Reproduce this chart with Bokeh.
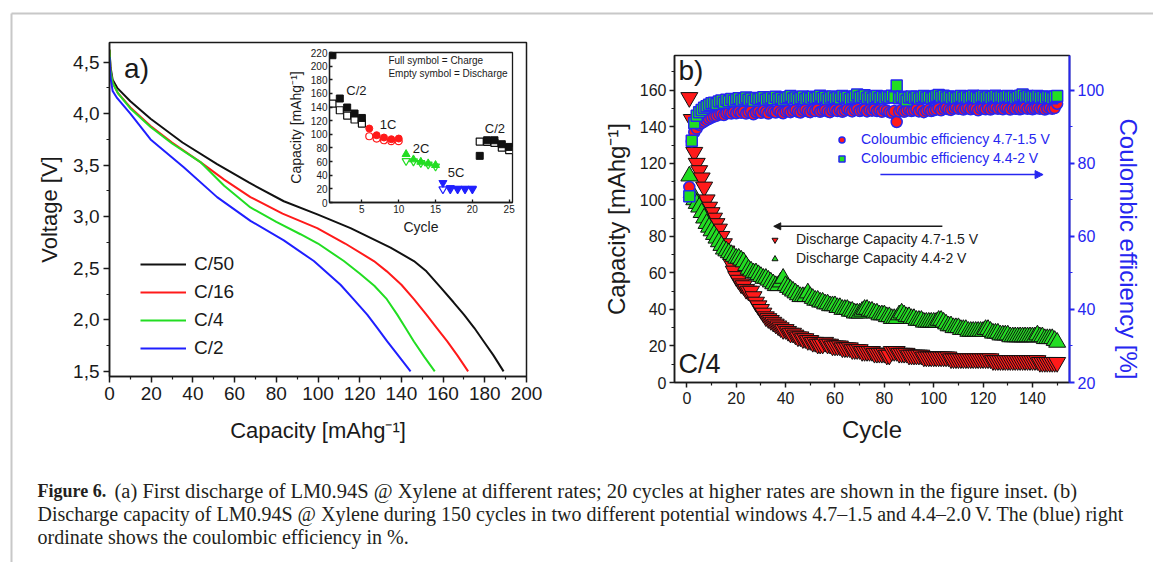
from bokeh.plotting import figure
from bokeh.models import (Range1d, LinearAxis, FixedTicker, Legend, LegendItem, Label,
                          Arrow, NormalHead, GridBox, Column, CustomJSTickFormatter)
from bokeh.embed import file_html
from bokeh.resources import INLINE

W, H = 1153, 562
FONT = "Liberation Sans"
SERIF = "Liberation Serif"
INK = "#1a1a1a"
RED = "#ff1a1a"
GREEN = "#22dd22"
BLUE = "#1f1fff"
AXBLUE = "#2626f0"

# ---------------- panel a: first discharge curves ----------------
c50_cap = [0, 0.5, 1.5, 3.7, 10, 19.7, 35, 51.6, 67, 83.6, 100, 115.6, 134.8, 146, 152, 159, 165, 170, 175, 179.5, 184, 189]
c50_v = [4.62, 4.45, 4.33, 4.25, 4.12, 3.95, 3.72, 3.51, 3.33, 3.15, 3.02, 2.89, 2.70, 2.57, 2.47, 2.31, 2.17, 2.05, 1.92, 1.79, 1.66, 1.50]
c16_cap = [0, 0.5, 1.5, 4, 10, 19.7, 30, 43.6, 55, 67.6, 83, 99.6, 113, 126.8, 133, 140, 146, 152, 157, 162, 167, 172]
c16_v = [4.62, 4.42, 4.30, 4.20, 4.06, 3.88, 3.72, 3.53, 3.36, 3.19, 3.03, 2.89, 2.74, 2.57, 2.47, 2.34, 2.20, 2.05, 1.92, 1.79, 1.65, 1.50]
c4_cap = [0, 0.5, 1.5, 4, 10, 19.7, 30, 43.6, 55, 67.6, 80, 91.6, 100, 112.4, 120, 127, 133, 138, 142, 146, 151, 156]
c4_v = [4.62, 4.42, 4.30, 4.20, 4.05, 3.87, 3.71, 3.53, 3.30, 3.09, 2.95, 2.83, 2.74, 2.57, 2.45, 2.33, 2.20, 2.05, 1.92, 1.79, 1.64, 1.50]
c2_cap = [0, 0.5, 1.5, 3.7, 10, 19.7, 35.6, 51.6, 67.6, 83.6, 98, 110.8, 117, 123.6, 128.5, 133.2, 139, 144.4]
c2_v = [4.55, 4.35, 4.22, 4.15, 4.00, 3.75, 3.48, 3.19, 2.96, 2.77, 2.57, 2.34, 2.20, 2.05, 1.92, 1.79, 1.64, 1.50]
rate_labels = ["C/50", "C/16", "C/4", "C/2"]

# ---------------- inset: rate capability ----------------
cyc_c2a = [1, 2, 3, 4, 5]
c2a_charge = [216, 152.5, 139.3, 130.5, 124]
c2a_dis = [145, 135.3, 127.5, 121.7, 115.8]
cyc_1c = [6, 7, 8, 9, 10]
c1_charge = [108.5, 98.7, 95.3, 92.8, 93.8]
c1_dis = [97.2, 93.8, 91.3, 89.9, 89.9]
cyc_2c = [11, 12, 13, 14, 15]
c2c_charge = [70.8, 63, 59.5, 57.2, 54.7]
c2c_dis = [61, 60.5, 58, 55.8, 53]
cyc_5c = [16, 17, 18, 19, 20]
c5_charge = [28.8, 21.4, 20.5, 20.5, 20.5]
c5_dis = [19.5, 19.5, 19.5, 19.5, 19.5]
cyc_c2b = [21, 22, 23, 24, 25]
c2b_charge = [68.4, 91.3, 91.3, 85.5, 81.5]
c2b_dis = [89.4, 89, 87.4, 80.6, 76.7]

# ---------------- panel b: cycling ----------------
cycles = list(range(1, 151))
dis_47 = [156, 144, 126, 120, 116, 112, 107, 100, 96, 93,
          90, 87, 84, 80, 76, 72, 68, 65, 61, 58,
          56, 54, 53, 51, 50, 50, 47, 44, 42, 40,
          38, 36, 35, 34, 33, 32, 31, 30, 29, 29,
          28, 27, 27, 26, 25, 25, 24, 24, 23, 23,
          22, 22, 21, 21, 21, 22, 21, 21, 20, 20,
          20, 20, 19, 19, 19, 19, 18, 18, 18, 18,
          17, 17, 17, 17, 17, 16, 16, 16, 16, 16,
          15, 15, 17, 17, 17, 16, 16, 16, 16, 15,
          15, 15, 15, 15, 15, 14, 14, 14, 14, 14,
          14, 14, 14, 14, 14, 14, 13, 13, 13, 13,
          13, 13, 13, 13, 13, 13, 13, 13, 13, 13,
          13, 13, 13, 12, 12, 12, 12, 12, 12, 12,
          12, 12, 12, 12, 12, 12, 12, 12, 12, 12,
          12, 12, 11, 11, 11, 11, 11, 11, 11, 11]
dis_44 = [113, 104, 100, 98, 96, 93, 90, 87, 85, 83,
          81, 79, 77, 75, 73, 72, 71, 70, 69, 68,
          68, 67, 66, 64, 62, 61, 60, 60, 59, 58,
          57, 57, 56, 55, 54, 53, 53, 55, 57, 53,
          52, 51, 50, 49, 48, 47, 47, 47, 49, 47,
          46, 45, 45, 44, 44, 43, 43, 42, 42, 42,
          41, 41, 40, 40, 40, 39, 39, 38, 38, 38,
          39, 40, 40, 39, 39, 38, 38, 37, 37, 37,
          36, 36, 35, 35, 35, 37, 38, 37, 36, 36,
          35, 35, 34, 34, 34, 33, 33, 33, 33, 33,
          33, 34, 34, 33, 32, 31, 31, 30, 30, 30,
          29, 29, 29, 28, 28, 28, 28, 28, 28, 28,
          29, 29, 28, 27, 27, 27, 26, 26, 26, 26,
          25, 25, 25, 25, 25, 25, 25, 25, 25, 25,
          25, 26, 25, 25, 24, 24, 24, 24, 23, 22]
ce_47 = [73.5, 86.0, 88.5, 89.5, 90.5, 91.0, 91.4, 91.8, 92.2, 92.5,
         92.8, 93.0, 93.3, 93.5, 93.2, 93.7, 93.9, 93.6, 94.0, 93.7,
         94.1, 93.8, 94.2, 93.6, 94.0, 94.3, 93.4, 93.9, 94.2, 93.8,
         94.4, 94.0, 93.6, 94.3, 94.1, 93.9, 94.5, 94.0, 93.7, 94.2,
         94.4, 94.0, 94.3, 94.6, 94.1, 93.9, 94.4, 94.7, 94.2, 94.0,
         94.5, 94.3, 94.8, 94.1, 94.4, 94.6, 94.2, 94.0, 94.5, 94.7,
         94.3, 94.6, 94.1, 94.4, 94.8, 94.5, 94.2, 94.6, 94.9, 94.3,
         94.5, 94.7, 94.2, 94.6, 94.4, 94.8, 94.3, 94.5, 94.1, 94.6,
         94.4, 94.0, 93.8, 94.3, 91.3, 94.2, 94.6, 94.1, 94.4, 94.7,
         94.3, 94.5, 94.8, 94.2, 94.6, 94.0, 94.4, 94.7, 94.3, 94.5,
         94.7, 95.1, 94.5, 94.9, 95.2, 94.8, 94.6, 95.0, 95.3, 94.9,
         95.1, 94.7, 95.0, 95.2, 94.8, 95.1, 94.9, 94.5, 95.0, 95.2,
         94.8, 95.1, 94.7, 95.0, 95.3, 94.9, 95.1, 94.8, 95.2, 95.0,
         94.7, 95.1, 94.9, 95.2, 94.8, 95.0, 95.3, 94.9, 95.1, 94.8,
         95.0, 95.2, 94.9, 95.1, 94.7, 95.0, 95.3, 94.9, 95.1, 96.3]
ce_44 = [71.0, 86.2, 91.0, 93.0, 94.0, 94.6, 95.2, 95.6, 96.0, 96.4,
         96.6, 96.2, 96.9, 97.2, 96.6, 97.4, 97.0, 97.6, 97.1, 97.5,
         97.8, 97.2, 97.6, 98.0, 97.4, 97.7, 97.1, 97.9, 97.5, 97.8,
         98.1, 97.4, 97.7, 98.0, 97.5, 98.2, 97.6, 97.9, 97.3, 97.8,
         98.1, 98.4, 97.7, 98.0, 97.5, 97.9, 98.3, 97.6, 98.0, 97.7,
         98.2, 97.8, 98.1, 98.5, 97.9, 98.2, 97.6, 98.0, 98.3, 97.8,
         98.1, 97.7, 98.4, 98.0, 98.2, 97.6, 97.9, 98.3, 98.8, 98.0,
         98.2, 98.6, 97.9, 98.3, 97.7, 98.1, 98.4, 97.8, 98.2, 97.9,
         98.3, 98.0, 98.5, 98.1, 101.3, 97.8, 98.2, 97.9, 97.2, 98.0,
         98.3, 97.9, 98.2, 97.7, 98.1, 98.4, 98.0, 98.2, 97.8, 98.1,
         98.4, 98.7, 98.2, 98.5, 98.0, 98.3, 97.9, 98.2, 97.8, 98.1,
         98.4, 98.0, 98.3, 97.9, 98.2, 98.5, 98.1, 97.8, 98.2, 98.4,
         98.0, 98.3, 97.9, 98.2, 98.5, 98.1, 98.3, 98.0, 98.2, 98.4,
         98.1, 98.3, 97.9, 98.2, 98.5, 98.8, 98.2, 98.4, 98.0, 98.3,
         98.1, 98.4, 98.0, 98.2, 97.9, 98.3, 98.1, 97.8, 98.2, 98.4]

caption_bold = "Figure 6."
caption_l1 = "(a) First discharge of LM0.94S @ Xylene at different rates; 20 cycles at higher rates are shown in the figure inset. (b)"
caption_l2 = "Discharge capacity of LM0.94S @ Xylene during 150 cycles in two different potential windows 4.7\u20131.5 and 4.4\u20132.0\u2009V. The (blue) right"
caption_l3 = "ordinate shows the coulombic efficiency in %."


def base_fig(left, top, right, bottom, xr, yr, opaque=False, **kw):
    p = figure(width=W, height=H, x_range=xr, y_range=yr, output_backend="svg",
               toolbar_location=None, min_border_left=left, min_border_top=top,
               min_border_right=W - right, min_border_bottom=H - bottom, **kw)
    p.grid.visible = False
    if not opaque:
        p.background_fill_color = None
        p.border_fill_color = None
    return p


def style_axis(ax, tick_size, label_size, color=INK, tout=6, mout=3, tin=0, lw=1.5):
    ax.axis_line_width = lw
    ax.axis_line_color = color
    ax.major_tick_line_color = color
    ax.major_tick_line_width = lw
    ax.minor_tick_line_color = color
    ax.minor_tick_line_width = 1.2
    ax.major_tick_in = tin
    ax.major_tick_out = tout
    ax.minor_tick_in = 0
    ax.minor_tick_out = mout
    ax.major_label_text_font = FONT
    ax.major_label_text_font_size = f"{tick_size}px"
    ax.major_label_text_color = color
    ax.axis_label_text_font = FONT
    ax.axis_label_text_font_size = f"{label_size}px"
    ax.axis_label_text_font_style = "normal"
    ax.axis_label_text_color = color


# ---------------- background: frame + caption ----------------
bg = base_fig(11, 13, W, H, Range1d(11, W), Range1d(H, 13), opaque=True, x_axis_location="above")
bg.outline_line_color = None
for ax in (bg.xaxis[0], bg.yaxis[0]):
    ax.ticker = FixedTicker(ticks=[])
    ax.axis_line_color = "#c8c8c8"
    ax.axis_line_width = 2
    ax.major_tick_in = ax.major_tick_out = 0
    ax.minor_tick_in = ax.minor_tick_out = 0
    ax.major_label_standoff = 0
cap_kw = dict(text_font=SERIF, text_color="#231f20", text_baseline="middle")
bg.add_layout(Label(x=37, y=490, text=caption_bold, text_font_style="bold", text_font_size="18px", **cap_kw))
bg.add_layout(Label(x=114, y=490, text=caption_l1, text_font_size="20.5px", **cap_kw))
bg.add_layout(Label(x=37, y=513, text=caption_l2, text_font_size="20px", **cap_kw))
bg.add_layout(Label(x=37, y=536, text=caption_l3, text_font_size="20px", **cap_kw))

# ---------------- panel a ----------------
pa = base_fig(109, 42, 526, 376, Range1d(0, 200), Range1d(1.45, 4.69))
pa.outline_line_color = INK
pa.outline_line_width = 1.5
pa.outline_line_alpha = 1
style_axis(pa.xaxis[0], 19, 22)
style_axis(pa.yaxis[0], 19, 22)
pa.xaxis.ticker = FixedTicker(ticks=list(range(0, 201, 20)), minor_ticks=list(range(10, 200, 20)))
pa.yaxis.ticker = FixedTicker(ticks=[1.5, 2.0, 2.5, 3.0, 3.5, 4.0, 4.5],
                              minor_ticks=[1.75, 2.25, 2.75, 3.25, 3.75, 4.25])
pa.yaxis.formatter = CustomJSTickFormatter(code="return tick.toFixed(1).replace('.', ',');")
pa.xaxis.axis_label = "Capacity [mAhg\u207b\u00b9]"
pa.yaxis.axis_label = "Voltage [V]"
pa.xaxis.major_label_standoff = 4
pa.xaxis.axis_label_standoff = 15
pa.yaxis.major_label_standoff = 4
pa.yaxis.axis_label_standoff = 8

curves = [(c50_cap, c50_v, "#111111"), (c16_cap, c16_v, RED), (c4_cap, c4_v, GREEN), (c2_cap, c2_v, BLUE)]
rends = [pa.line(cx, cy, line_color=col, line_width=2) for cx, cy, col in curves]
leg_a = Legend(items=[LegendItem(label=lab, renderers=[r]) for lab, r in zip(rate_labels, rends)],
               location=(31, 17), glyph_width=46, glyph_height=20, label_height=20, spacing=6,
               padding=0, margin=0, label_standoff=8, border_line_color=None,
               background_fill_alpha=0, label_text_font=FONT, label_text_font_size="19px",
               label_text_color=INK)
pa.add_layout(leg_a)
pa.add_layout(Label(x=7, y=4.44, text="a)", text_font=FONT, text_font_size="28px",
                    text_color=INK, text_baseline="middle"))

# ---------------- inset ----------------
pi = base_fig(329, 52, 512, 202, Range1d(0.6, 25.45), Range1d(0, 220))
pi.outline_line_color = INK
pi.outline_line_width = 1.3
pi.outline_line_alpha = 1
style_axis(pi.xaxis[0], 10, 14, tout=0, mout=0, tin=3, lw=1.3)
style_axis(pi.yaxis[0], 10, 14, tout=0, mout=0, tin=3, lw=1.3)
pi.xaxis.ticker = FixedTicker(ticks=[5, 10, 15, 20, 25])
pi.yaxis.ticker = FixedTicker(ticks=list(range(0, 221, 20)))
pi.xaxis.axis_label = "Cycle"
pi.yaxis.axis_label = "Capacity [mAhg\u207b\u00b9]"
pi.xaxis.major_label_standoff = 2
pi.yaxis.major_label_standoff = 2
pi.xaxis.axis_label_standoff = 3
pi.yaxis.axis_label_standoff = 4

MS = 7
for cx, full, empty in ((cyc_c2a, c2a_charge, c2a_dis), (cyc_c2b, c2b_charge, c2b_dis)):
    pi.scatter(cx, empty, marker="square", size=MS, fill_color="white", line_color="#111111", line_width=1.2)
    pi.scatter(cx, full, marker="square", size=MS, fill_color="#111111", line_color="#111111")
pi.scatter(cyc_1c, c1_dis, marker="circle", size=MS, fill_color="white", line_color=RED, line_width=1.2)
pi.scatter(cyc_1c, c1_charge, marker="circle", size=MS, fill_color=RED, line_color=RED)
pi.scatter(cyc_2c, c2c_dis, marker="inverted_triangle", size=MS + 1, fill_color="white", line_color=GREEN, line_width=1.2)
pi.scatter(cyc_2c, c2c_charge, marker="triangle", size=MS + 1, fill_color=GREEN, line_color=GREEN)
pi.scatter(cyc_5c, c5_dis, marker="inverted_triangle", size=MS + 1, fill_color="white", line_color=BLUE, line_width=1.2)
pi.scatter(cyc_5c, c5_charge, marker="inverted_triangle", size=MS + 1, fill_color=BLUE, line_color=BLUE)

ilab = dict(text_font=FONT, text_font_size="13px", text_color=INK, text_align="center", text_baseline="middle")
pi.add_layout(Label(x=4.26, y=164.7, text="C/2", **ilab))
pi.add_layout(Label(x=8.54, y=114.8, text="1C", **ilab))
pi.add_layout(Label(x=13.04, y=79.6, text="2C", **ilab))
pi.add_layout(Label(x=17.8, y=43.7, text="5C", **ilab))
pi.add_layout(Label(x=23.06, y=109, text="C/2", **ilab))
note = dict(text_font=FONT, text_font_size="10px", text_color=INK, text_baseline="middle")
pi.add_layout(Label(x=8.6, y=207.6, text="Full symbol = Charge", **note))
pi.add_layout(Label(x=8.6, y=189.1, text="Empty symbol = Discharge", **note))

# ---------------- panel b ----------------
pb = base_fig(674, 55, 1069, 382, Range1d(-5, 155), Range1d(0, 179))
pb.extra_y_ranges = {"ce": Range1d(20, 109.5)}
pb.outline_line_color = INK
pb.outline_line_width = 1.5
pb.outline_line_alpha = 1
style_axis(pb.xaxis[0], 16, 24, tout=5)
style_axis(pb.yaxis[0], 16, 24, tout=5)
pb.xaxis.ticker = FixedTicker(ticks=list(range(0, 141, 20)), minor_ticks=list(range(10, 151, 20)))
pb.yaxis.ticker = FixedTicker(ticks=list(range(0, 161, 20)), minor_ticks=list(range(10, 171, 20)))
pb.xaxis.axis_label = "Cycle"
pb.yaxis.axis_label = "Capacity [mAhg\u207b\u00b9]"
pb.xaxis.major_label_standoff = 4
pb.xaxis.axis_label_standoff = 9
pb.yaxis.major_label_standoff = 3
pb.yaxis.axis_label_standoff = 7

# non-breaking spaces push the title lower, as it sits in the original
rax = LinearAxis(y_range_name="ce", axis_label="\u00a0" * 9 + "Coulombic efficiency [%]",
                 ticker=FixedTicker(ticks=[20, 40, 60, 80, 100], minor_ticks=[30, 50, 70, 90]))
style_axis(rax, 16, 24, color=AXBLUE, tout=5, lw=2)
rax.major_label_standoff = 3
rax.axis_label_standoff = 8
pb.add_layout(rax, "right")

r_d47 = pb.scatter(cycles, dis_47, marker="inverted_triangle", size=17, fill_color=RED,
                   line_color="#111111", line_width=1)
r_d44 = pb.scatter(cycles, dis_44, marker="triangle", size=17, fill_color=GREEN,
                   line_color="#111111", line_width=1)
r_c47 = pb.scatter(cycles, ce_47, y_range_name="ce", marker="circle", size=11, fill_color=RED,
                   line_color=AXBLUE, line_width=1.5)
r_c44 = pb.scatter(cycles, ce_44, y_range_name="ce", marker="square", size=11, fill_color=GREEN,
                   line_color=AXBLUE, line_width=1.5)

leg_ce = Legend(items=[LegendItem(label="Coloumbic efficiency 4.7-1.5 V", renderers=[r_c47]),
                       LegendItem(label="Coloumbic efficiency 4.4-2 V", renderers=[r_c44])],
                location=(160, 216), glyph_width=15, glyph_height=15, label_height=15, spacing=3,
                padding=0, margin=0, label_standoff=12, border_line_color=None,
                background_fill_alpha=0, label_text_font=FONT, label_text_font_size="14px",
                label_text_color=AXBLUE)
leg_dis = Legend(items=[LegendItem(label="Discharge Capacity 4.7-1.5 V", renderers=[r_d47]),
                        LegendItem(label="Discharge Capacity 4.4-2 V", renderers=[r_d44])],
                 location=(93, 116), glyph_width=15, glyph_height=15, label_height=15, spacing=3,
                 padding=0, margin=0, label_standoff=14, border_line_color=None,
                 background_fill_alpha=0, label_text_font=FONT, label_text_font_size="14px",
                 label_text_color=INK)
pb.add_layout(leg_ce)
pb.add_layout(leg_dis)

pb.add_layout(Arrow(end=NormalHead(size=8, fill_color=AXBLUE, line_color=AXBLUE),
                    x_start=78.4, y_start=113.8, x_end=144.3, y_end=113.8,
                    line_color=AXBLUE, line_width=1.5))
pb.add_layout(Arrow(end=NormalHead(size=7, fill_color=INK, line_color=INK),
                    x_start=103.5, y_start=85.5, x_end=35.2, y_end=85.5,
                    line_color=INK, line_width=1.5))
pb.add_layout(Label(x=-3.4, y=170.8, text="b)", text_font=FONT, text_font_size="28px",
                    text_color=INK, text_baseline="middle"))
pb.add_layout(Label(x=-3.4, y=10, text="C/4", text_font=FONT, text_font_size="27px",
                    text_color=INK, text_baseline="middle"))

# each figure in its own wrapper so the grid does not align their frames; all share one cell
wrappers = [Column(children=[f], width=W, height=H) for f in (bg, pa, pi, pb)]
root = GridBox(children=[(w, 0, 0) for w in wrappers], rows=[f"{H}px"], cols=[f"{W}px"],
               width=W, height=H)

open("out.html", "w").write(file_html(root, INLINE))
